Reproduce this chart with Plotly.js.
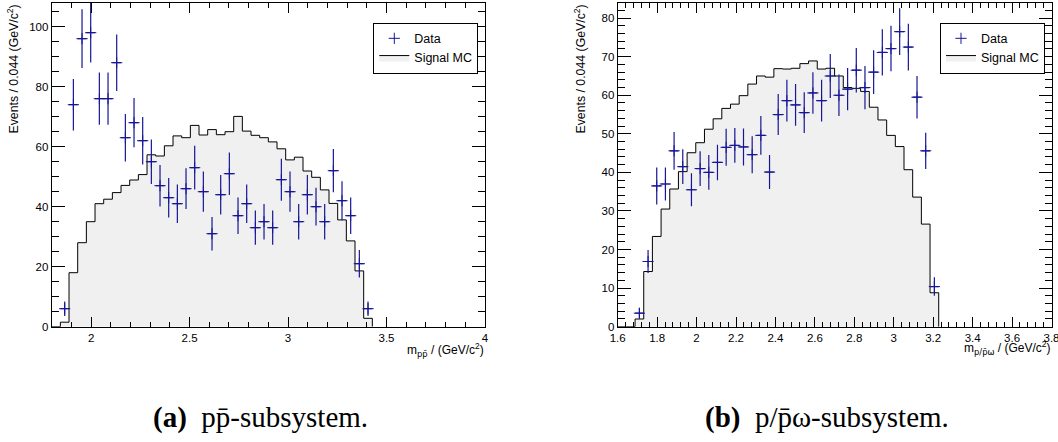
<!DOCTYPE html>
<html><head><meta charset="utf-8">
<script src="https://cdn.plot.ly/plotly-3.0.1.min.js"></script>
<style>html,body{margin:0;padding:0;background:#fff;}#chart{width:1058px;height:442px;}</style>
</head><body><div id="chart"></div>
<script>
// ---- histogram definitions (bin width 0.044 GeV/c^2) ----
const binWidth = 0.044;
const leftLow = 1.8, leftHigh = 4.0;
const rightLow = 1.6, rightHigh = 3.8;

// ---- (a) p pbar subsystem ----
const leftDataCounts = [null, 6, 74, 96, 98, 76, 76, 88, 63, 68, 62, 55, 47, 43, 41, 46, 53, 45, 31, 44, 51, 37, 41, 33, 35, 33, 49, 45, 35, 44, 40, 35, 52, 42, 37, 21, 6];
const leftDataErrors = [null, 2.4, 8.6, 9.8, 9.9, 8.7, 8.7, 9.4, 7.9, 8.2, 7.9, 7.4, 6.9, 6.6, 6.4, 6.8, 7.3, 6.7, 5.6, 6.6, 7.1, 6.1, 6.4, 5.7, 5.9, 5.7, 7.0, 6.7, 5.9, 6.6, 6.3, 5.9, 7.2, 6.5, 6.1, 4.6, 2.4];
const leftMC = [0, 1.5, 18, 28, 35, 41, 42.5, 44.7, 47.1, 48.9, 50.7, 57.3, 56.9, 60.3, 63.6, 63, 67.1, 63.9, 65.7, 64, 65, 70.1, 65.2, 63.8, 63, 61.6, 59.3, 55.6, 56.5, 51.9, 49.8, 45.6, 41.1, 35.6, 28.6, 18.6, 2.8];

// ---- (b) p/pbar omega subsystem ----
const rightDataCounts = [null, null, 3.5, 16.9, 36.5, 37.0, 45.6, 41.5, 35.5, 41.0, 40.0, 42.6, 46.5, 47.0, 46.6, 44.6, 49.6, 40.1, 55.0, 58.6, 57.5, 55.5, 60.6, 58.6, 65.0, 60.0, 61.6, 66.5, 62.0, 66.0, 71.1, 72.1, 76.5, 72.5, 59.5, 45.6, 10.4];
const rightDataErrors = [null, null, 1.3, 3.0, 4.8, 4.3, 4.9, 4.5, 4.3, 4.5, 4.5, 4.6, 4.8, 4.5, 4.8, 4.8, 5.0, 4.4, 5.3, 5.4, 5.4, 5.3, 5.4, 5.4, 5.7, 5.4, 5.5, 5.75, 5.6, 5.7, 6.0, 5.9, 6.05, 6.05, 5.5, 4.7, 2.4];
const rightMC = [0, 0, 2.0, 14.3, 23.4, 30.5, 35.7, 40.2, 45.1, 47.7, 51.2, 53.9, 56.6, 57.7, 59.9, 62.9, 65.0, 64.7, 66.9, 66.8, 67.0, 68.2, 68.9, 66.8, 67.0, 65.0, 62.0, 61.8, 61.0, 56.9, 53.6, 49.6, 46.7, 40.7, 33.6, 26.6, 8.8];

// ---- tick labels / texts ----
const leftXTicks = [2, 2.5, 3, 3.5, 4];
const rightXTicks = [1.6, 1.8, 2, 2.2, 2.4, 2.6, 2.8, 3, 3.2, 3.4, 3.6, 3.8];
const yTitle = 'Events / 0.044 (GeV/c<sup>2</sup>)';
const macronSpan = s => '<span style="font-family:DejaVu Sans">' + s + '</span>';
const leftXTitle = 'm<sub>' + macronSpan('pp\u0304') + '</sub> / (GeV/c<sup>2</sup>)';
const rightXTitle = 'm<sub>' + macronSpan('p/p\u0304\u03c9') + '</sub> / (GeV/c<sup>2</sup>)';
const captionA = '<b>(a)</b>&nbsp;&nbsp;pp\u0304-subsystem.';
const captionB = '<b>(b)</b>&nbsp;&nbsp;p/p\u0304\u03c9-subsystem.';
const legendNames = ['Data', 'Signal MC'];

const dataColor = 'rgb(22,22,150)';
const mcFill = '#f0f0f0';
const sansFont = 'Liberation Sans, Arial, sans-serif';

function binCenters(low, n) { const c = []; for (let i = 0; i < n; i++) c.push(low + binWidth * (i + 0.5)); return c; }
function stepXY(low, vals) {
  const x = [], y = [];
  for (let i = 0; i < vals.length; i++) { x.push(low + binWidth * i); y.push(vals[i]); }
  x.push(low + binWidth * vals.length); y.push(0);
  return {x, y};
}

function mcTrace(low, vals, xa, ya, leg) {
  const s = stepXY(low, vals);
  return {type: 'scatter', mode: 'lines', x: s.x, y: s.y, xaxis: xa, yaxis: ya,
    line: {shape: 'hv', color: '#000', width: 1}, fill: 'tozeroy', fillcolor: mcFill,
    name: legendNames[1], legend: leg, legendrank: 2, hoverinfo: 'skip'};
}
function dataTrace(low, vals, errs, xa, ya, leg) {
  return {type: 'scatter', mode: 'markers', x: binCenters(low, vals.length), y: vals, xaxis: xa, yaxis: ya,
    marker: {symbol: 'cross-thin-open', size: 8, color: dataColor, line: {color: dataColor, width: 1}},
    error_y: {type: 'data', array: errs, visible: true, width: 0, thickness: 1.2, color: dataColor},
    error_x: {type: 'constant', value: binWidth / 2, visible: true, width: 0, thickness: 1.2, color: dataColor},
    name: legendNames[0], legend: leg, legendrank: 1, hoverinfo: 'skip'};
}

const traces = [
  mcTrace(leftLow, leftMC, 'x', 'y', 'legend'),
  dataTrace(leftLow, leftDataCounts, leftDataErrors, 'x', 'y', 'legend'),
  mcTrace(rightLow, rightMC, 'x2', 'y2', 'legend2'),
  dataTrace(rightLow, rightDataCounts, rightDataErrors, 'x2', 'y2', 'legend2')
];

const W = 1058, H = 442;
const px = v => v / W, py = v => 1 - v / H;
const tickFont = {family: sansFont, size: 11.5, color: '#000'};
function axisBase(extra) {
  return Object.assign({showline: true, linecolor: '#000', linewidth: 1, mirror: 'allticks',
    ticks: 'inside', tickcolor: '#000', tickwidth: 1, showgrid: false, zeroline: false,
    tickfont: tickFont, fixedrange: true, ticklabeloverflow: 'allow'}, extra);
}
const legendBase = {bgcolor: '#fff', bordercolor: '#000', borderwidth: 1,
  font: {family: sansFont, size: 12.5, color: '#000'}, xanchor: 'left', yanchor: 'top',
  itemwidth: 30, tracegroupgap: 0};

const layout = {
  width: W, height: H, margin: {l: 0, r: 0, t: 0, b: 0},
  paper_bgcolor: '#fff', plot_bgcolor: '#fff', showlegend: true,
  xaxis: axisBase({domain: [px(51.7), px(485)], range: [leftLow, leftHigh], anchor: 'y',
    tickmode: 'array', tickvals: leftXTicks, ticktext: leftXTicks.map(String), ticklen: 10,
    minor: {dtick: 0.1, tick0: 0, ticks: 'inside', ticklen: 5, tickcolor: '#000', showgrid: false}}),
  yaxis: axisBase({domain: [py(326.7), py(2.7)], range: [0, 108], anchor: 'x',
    dtick: 20, tick0: 0, ticklen: 13,
    minor: {dtick: 5, tick0: 0, ticks: 'inside', ticklen: 7, tickcolor: '#000', showgrid: false}}),
  xaxis2: axisBase({domain: [px(617.7), px(1051.5)], range: [rightLow, rightHigh], anchor: 'y2',
    tickmode: 'array', tickvals: rightXTicks, ticktext: rightXTicks.map(String), ticklen: 10,
    minor: {dtick: 0.04, tick0: 0, ticks: 'inside', ticklen: 5, tickcolor: '#000', showgrid: false}}),
  yaxis2: axisBase({domain: [py(326.7), py(2.7)], range: [0, 84], anchor: 'x2',
    dtick: 10, tick0: 0, ticklen: 13,
    minor: {dtick: 2, tick0: 0, ticks: 'inside', ticklen: 7, tickcolor: '#000', showgrid: false}}),
  legend: Object.assign({x: px(373.3), y: py(22.7)}, legendBase),
  legend2: Object.assign({x: px(940), y: py(22.7)}, legendBase),
  annotations: [
    {text: yTitle, xref: 'paper', yref: 'paper', x: px(13), y: py(3), xanchor: 'center', yanchor: 'top',
      textangle: -90, showarrow: false, font: {family: sansFont, size: 12.3, color: '#000'}},
    {text: yTitle, xref: 'paper', yref: 'paper', x: px(580), y: py(3), xanchor: 'center', yanchor: 'top',
      textangle: -90, showarrow: false, font: {family: sansFont, size: 12.3, color: '#000'}},
    {text: leftXTitle, xref: 'paper', yref: 'paper', x: px(486), y: py(350), xanchor: 'right', yanchor: 'middle',
      showarrow: false, font: {family: sansFont, size: 12, color: '#000'}},
    {text: rightXTitle, xref: 'paper', yref: 'paper', x: px(1052), y: py(348), xanchor: 'right', yanchor: 'middle',
      showarrow: false, font: {family: sansFont, size: 12, color: '#000'}},
    {text: captionA, xref: 'paper', yref: 'paper', x: px(260.5), y: py(417), xanchor: 'center', yanchor: 'middle',
      showarrow: false, font: {family: 'Liberation Serif, serif', size: 29, color: '#000'}},
    {text: captionB, xref: 'paper', yref: 'paper', x: px(827), y: py(417), xanchor: 'center', yanchor: 'middle',
      showarrow: false, font: {family: 'Liberation Serif, serif', size: 29, color: '#000'}}
  ]
};

Plotly.newPlot('chart', traces, layout, {staticPlot: true, displayModeBar: false});
</script>
</body></html>
